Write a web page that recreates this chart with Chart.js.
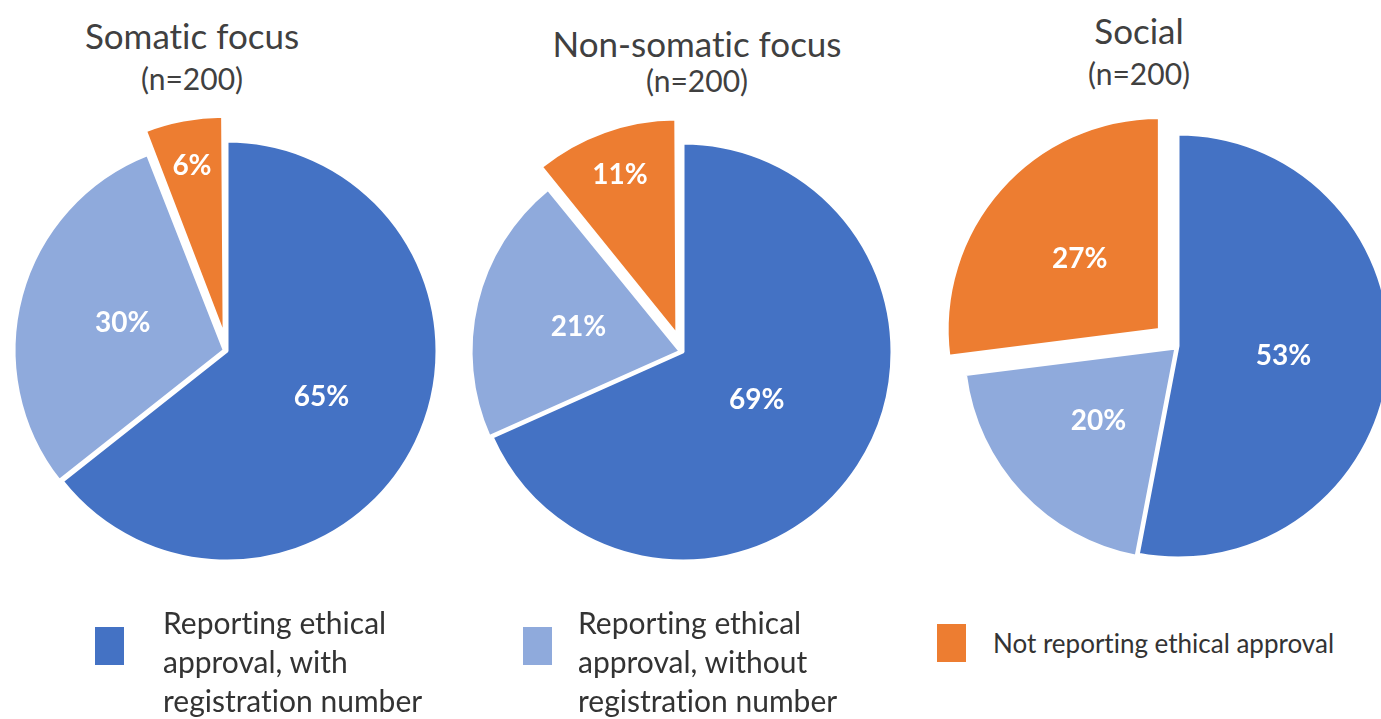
<!DOCTYPE html>
<html>
<head>
<meta charset="utf-8">
<script src="https://cdn.jsdelivr.net/npm/chart.js@4.4.1/dist/chart.umd.min.js"></script>
<style>
  html, body { margin: 0; padding: 0; background: #fff; }
  body { width: 1381px; height: 719px; overflow: hidden; position: relative;
         font-family: Lato, "Open Sans", sans-serif; color: #404040;
         font-variant-ligatures: none; }
  .pie-box { position: absolute; width: 520px; height: 520px; }
  .title, .subtitle { position: absolute; transform: translateX(-50%); white-space: nowrap; }
  .title { font-size: 35px; line-height: 40px; }
  .subtitle { font-size: 30px; line-height: 34px; }
  .swatch { position: absolute; width: 29px; height: 38px; }
  .legend-text { position: absolute; font-size: 30px; line-height: 39px; width: 275px; color: #333; }
  .legend-text.single { width: auto; white-space: nowrap; font-size: 26px; }
</style>
</head>
<body>
<script>
// data
const groups = ['Somatic focus', 'Non-somatic focus', 'Social'];
const sampleSizes = [200, 200, 200];
const categories = [
    'Reporting ethical approval, with registration number',
    'Reporting ethical approval, without registration number',
    'Not reporting ethical approval'
];
const somaticValues = [65, 30, 6];
const nonSomaticValues = [69, 21, 11];
const socialValues = [53, 20, 27];
const colors = ['#4472C4', '#8FAADC', '#ED7D31'];

// layout / style
const pieLayout = [
    {cx: 227, cy: 351, r: 210, titleX: 192, titleY: 15, subY: 61},
    {cx: 683, cy: 352, r: 209, titleX: 697, titleY: 23, subY: 63},
    {cx: 1178, cy: 346, r: 212, titleX: 1139, titleY: 10, subY: 56}
];
const explode = [0, 3, 25]; // how far each slice is pulled out, px
const legendLayout = [
    {sx: 95, sy: 627, tx: 163, ty: 603},
    {sx: 523, sy: 627, tx: 578, ty: 603},
    {sx: 937, sy: 624, tx: 993, ty: 624}
];

// chart.js draws offset/4 * (1 + fix), so work back from the wanted distance
function offsetFor(value, total, dist) {
    const circ = 2 * Math.PI * value / total;
    const fix = 1 - Math.sin(Math.min(Math.PI, circ));
    return 4 * dist / (1 + fix);
}

const sliceLabels = {
    id: 'sliceLabels',
    afterDatasetsDraw(chart) {
        const ctx = chart.ctx;
        const meta = chart.getDatasetMeta(0);
        const values = chart.data.datasets[0].data;
        ctx.save();
        ctx.fillStyle = '#fff';
        ctx.font = 'bold 28px Lato, "Open Sans", sans-serif';
        ctx.textAlign = 'center';
        ctx.textBaseline = 'middle';
        meta.data.forEach((arc, i) => {
            const p = arc.getProps(['x', 'y', 'startAngle', 'endAngle', 'outerRadius'], true);
            const mid = (p.startAngle + p.endAngle) / 2;
            const frac = values[i] < 15 ? 0.78 : (values[i] > 66 ? 0.42 : 0.5);
            const d = explode[i] + p.outerRadius * frac;
            ctx.fillText(values[i] + '%', p.x + Math.cos(mid) * d, p.y + Math.sin(mid) * d);
        });
        ctx.restore();
    }
};

function addText(cls, text, x, y) {
    const el = document.createElement('div');
    el.className = cls;
    el.textContent = text;
    el.style.left = x + 'px';
    el.style.top = y + 'px';
    document.body.appendChild(el);
    return el;
}

function createPie(values, idx) {
    const lay = pieLayout[idx];
    addText('title', groups[idx], lay.titleX, lay.titleY);
    addText('subtitle', '(n=' + sampleSizes[idx] + ')', lay.titleX, lay.subY);

    const box = document.createElement('div');
    box.className = 'pie-box';
    box.style.left = (lay.cx - 260) + 'px';
    box.style.top = (lay.cy - 260) + 'px';
    const canvas = document.createElement('canvas');
    box.appendChild(canvas);
    document.body.appendChild(box);

    const total = values.reduce((a, b) => a + b, 0);
    return new Chart(canvas, {
        type: 'pie',
        data: {
            labels: categories,
            datasets: [{
                data: values,
                backgroundColor: colors,
                borderColor: '#fff',
                borderWidth: 3,
                radius: lay.r,
                offset: values.map((v, i) => offsetFor(v, total, explode[i]))
            }]
        },
        options: {
            responsive: true,
            maintainAspectRatio: false,
            animation: false,
            layout: { padding: 0 },
            plugins: {
                legend: { display: false },
                tooltip: { enabled: false }
            }
        },
        plugins: [sliceLabels]
    });
}

createPie(somaticValues, 0);
createPie(nonSomaticValues, 1);
createPie(socialValues, 2);

// legend
categories.forEach((cat, i) => {
    const lay = legendLayout[i];
    const sw = document.createElement('div');
    sw.className = 'swatch';
    sw.style.left = lay.sx + 'px';
    sw.style.top = lay.sy + 'px';
    sw.style.background = colors[i];
    document.body.appendChild(sw);
    addText(i === 2 ? 'legend-text single' : 'legend-text', cat, lay.tx, lay.ty).style.transform = 'none';
});
</script>
</body>
</html>
